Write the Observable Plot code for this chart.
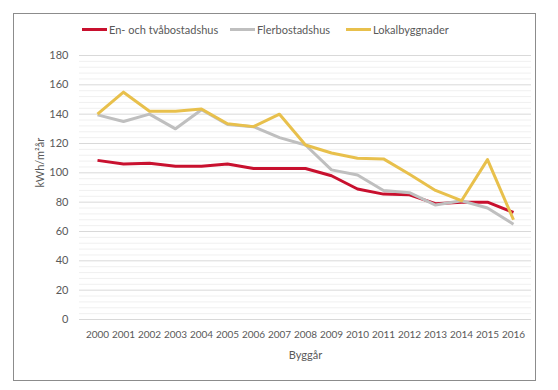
<!DOCTYPE html>
<html>
<head>
<meta charset="utf-8">
<script src="https://cdn.jsdelivr.net/npm/d3@7"></script>
<script src="https://cdn.jsdelivr.net/npm/@observablehq/plot@0.6"></script>
<style>
  body { margin: 0; background: #fff; font-family: Lato, "Open Sans", sans-serif; }
  #frame { position: absolute; left: 13px; top: 13px; width: 523px; height: 368px; border: 1px solid #8c8c8c; box-sizing: border-box; }
  #legend { position: absolute; left: 0; top: 20px; width: 558px; height: 18px; font-size: 11px; color: #595959; }
  .item { position: absolute; top: 0; display: flex; align-items: center; height: 18px; }
  .sw { width: 25px; height: 3px; margin-right: 2px; }
  #chart { position: absolute; left: 0; top: 40px; }
</style>
</head>
<body>
<div id="frame"></div>
<div id="legend"></div>
<div id="chart"></div>
<script>
const years = ["2000","2001","2002","2003","2004","2005","2006","2007","2008","2009","2010","2011","2012","2013","2014","2015","2016"];
const seriesNames = ["En- och tvåbostadshus", "Flerbostadshus", "Lokalbyggnader"];
const enTva = [108.5, 106, 106.5, 104.5, 104.5, 106, 103, 103, 103, 98, 89, 85.5, 85, 79, 80, 80, 73];
const fler = [139.5, 135, 140, 130, 143, 133, 131.5, 124, 119, 102, 98.5, 88, 86.5, 78, 81, 76, 65];
const lokal = [140, 155, 142, 142, 143.5, 133.5, 131.5, 140, 119, 113.5, 110, 109.5, 99, 88, 81, 109, 68];
const colors = ["#c8102e", "#bfbfbf", "#e8c04c"];
const yTicks = [0, 20, 40, 60, 80, 100, 120, 140, 160, 180];
const minorTicks = d3.range(0, 181, 4).filter(v => v % 20 !== 0);

const values = [enTva, fler, lokal];
const data = [];
seriesNames.forEach((s, i) => years.forEach((y, j) => data.push({series: s, year: y, value: values[i][j]})));

const legendPos = [82, 230, 346];
const legend = document.getElementById("legend");
seriesNames.forEach((s, i) => {
  const d = document.createElement("div");
  d.className = "item";
  d.style.left = legendPos[i] + "px";
  d.innerHTML = `<span class="sw" style="background:${colors[i]}"></span><span>${s}</span>`;
  legend.appendChild(d);
});

const chart = Plot.plot({
  width: 558,
  height: 330,
  marginLeft: 79,
  marginRight: 27,
  marginTop: 15,
  marginBottom: 51,
  style: { fontFamily: "Lato, 'Open Sans', sans-serif", fontSize: "11px", color: "#595959", background: "transparent" },
  x: { type: "point", domain: years, label: null, padding: 0.5 },
  y: { domain: [0, 180], label: null },
  color: { domain: seriesNames, range: colors },
  marks: [
    Plot.ruleY(minorTicks, { stroke: "#f0f0f0", strokeWidth: 1 }),
    Plot.ruleY(yTicks, { stroke: "#d9d9d9", strokeWidth: 1 }),
    Plot.axisY({ ticks: yTicks, tickSize: 0, tickPadding: 11, label: null, fontSize: 11 }),
    Plot.axisX({ tickSize: 0, tickPadding: 11, label: null, fontSize: 10 }),
    Plot.text(["kWh/m²år"], { frameAnchor: "left", dx: -39, rotate: -90, fontSize: 11, fill: "#595959" }),
    Plot.text(["Byggår"], { frameAnchor: "bottom", dy: 39, fontSize: 11, fill: "#595959" }),
    Plot.line(data, { x: "year", y: "value", z: "series", stroke: "series", strokeWidth: 3, strokeLinejoin: "round", strokeLinecap: "butt" })
  ]
});
document.getElementById("chart").appendChild(chart);
</script>
</body>
</html>
